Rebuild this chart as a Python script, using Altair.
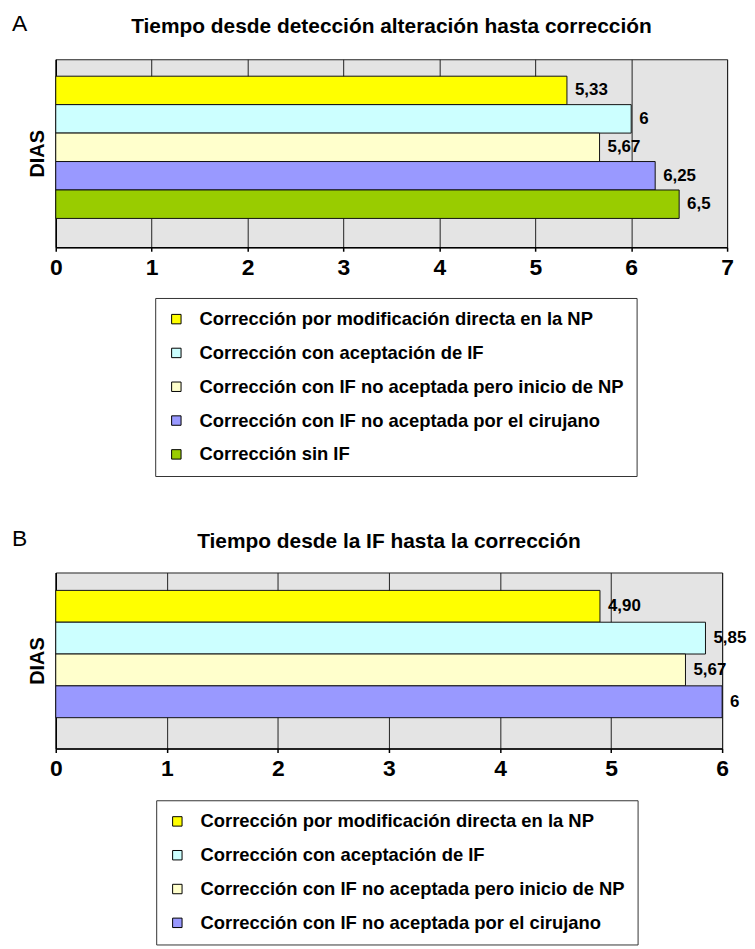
import altair as alt
import pandas as pd

# ---------------- data ----------------
cats_a = [
    "Corrección por modificación directa en la NP",
    "Corrección con aceptación de IF",
    "Corrección con IF no aceptada pero inicio de NP",
    "Corrección con IF no aceptada por el cirujano",
    "Corrección sin IF",
]
colors_a = ["#FFFF00", "#CCFFFF", "#FFFFCC", "#9999FF", "#99CC00"]
values_a = [5.33, 6, 5.67, 6.25, 6.5]
labels_a = ["5,33", "6", "5,67", "6,25", "6,5"]
ticks_a = [0, 1, 2, 3, 4, 5, 6, 7]
title_a = "Tiempo desde detección alteración hasta corrección"

cats_b = [
    "Corrección por modificación directa en la NP",
    "Corrección con aceptación de IF",
    "Corrección con IF no aceptada pero inicio de NP",
    "Corrección con IF no aceptada por el cirujano",
]
colors_b = ["#FFFF00", "#CCFFFF", "#FFFFCC", "#9999FF"]
values_b = [4.90, 5.85, 5.67, 6]
labels_b = ["4,90", "5,85", "5,67", "6"]
ticks_b = [0, 1, 2, 3, 4, 5, 6]
title_b = "Tiempo desde la IF hasta la corrección"

FONT = "Liberation Sans, Arial, Helvetica, sans-serif"


def panel(letter, title, cats, colors, values, labels, ticks, w, h,
          pad_outer, align, legend_x, legend_y, letter_x, letter_y, title_y):
    df = pd.DataFrame({"cat": cats, "value": values, "label": labels})
    base = alt.Chart(df)
    yenc = alt.Y(
        "cat:N", sort=cats,
        scale=alt.Scale(paddingInner=0, paddingOuter=pad_outer, align=align),
        axis=alt.Axis(title="DIAS", labels=False, ticks=False, domain=True,
                      domainColor="black", domainWidth=1.5,
                      titleFont=FONT, titleFontSize=20, titleFontWeight="bold",
                      titleColor="black", titlePadding=8),
    )
    xenc = alt.X(
        "value:Q",
        scale=alt.Scale(domain=[ticks[0], ticks[-1]], nice=False, zero=True),
        axis=alt.Axis(title=None, values=ticks, format="d", grid=True,
                      gridColor="#222222", gridWidth=1, gridOpacity=1,
                      domainColor="black", domainWidth=1.5,
                      tickColor="black", tickSize=4, tickWidth=1.5,
                      labelFont=FONT, labelFontSize=23, labelFontWeight="bold",
                      labelColor="black", labelPadding=5, labelFlush=False),
    )
    bars = base.mark_bar(stroke="#111111", strokeWidth=1).encode(
        x=xenc,
        y=yenc,
        color=alt.Color(
            "cat:N", sort=cats,
            scale=alt.Scale(domain=cats, range=colors),
            legend=alt.Legend(
                title=None, orient="none", legendX=legend_x, legendY=legend_y,
                direction="vertical", symbolType="square", symbolSize=90,
                symbolStrokeColor="black", symbolStrokeWidth=1,
                labelFont=FONT, labelFontSize=18.5, labelFontWeight="bold",
                labelColor="black", labelLimit=800, labelOffset=14,
                rowPadding=15, padding=12, strokeColor="#333333",
                fillColor="white",
            ),
        ),
    )
    text = base.mark_text(align="left", baseline="middle", dx=8, fontSize=17,
                          fontWeight="bold", font=FONT, color="black").encode(
        x="value:Q", y=alt.Y("cat:N", sort=cats), text="label:N")
    ldf = pd.DataFrame({"t": [letter], "title": [title]})
    let = alt.Chart(ldf).mark_text(align="left", baseline="alphabetic", fontSize=23,
                                   font=FONT, color="black").encode(
        x=alt.value(letter_x), y=alt.value(letter_y), text="t:N")
    ttl = alt.Chart(ldf).mark_text(align="center", baseline="alphabetic", fontSize=21,
                                   fontWeight="bold", font=FONT, color="black").encode(
        x=alt.value(w / 2), y=alt.value(title_y), text="title:N")
    return alt.layer(bars, text, let, ttl).properties(width=w, height=h)


chart_a = panel("A", title_a, cats_a, colors_a, values_a, labels_a, ticks_a,
                675, 189, 0.804, 0.37, 100, 240, -44, -28, -26)
chart_b = panel("B", title_b, cats_b, colors_b, values_b, labels_b, ticks_b,
                670, 177, 0.766, 0.367, 101, 229, -44, -27, -25)

chart = alt.concat(chart_a, chart_b, columns=1, spacing=50, align="none").resolve_scale(
    color="independent", x="independent", y="independent"
).configure_view(
    fill="#E4E4E4", stroke="#222222", strokeWidth=1
).properties(
    padding={"left": 3, "top": 2, "right": 0, "bottom": 0},
    background="white",
)

chart.save("out.html", embed_options={"renderer": "svg", "actions": False})
